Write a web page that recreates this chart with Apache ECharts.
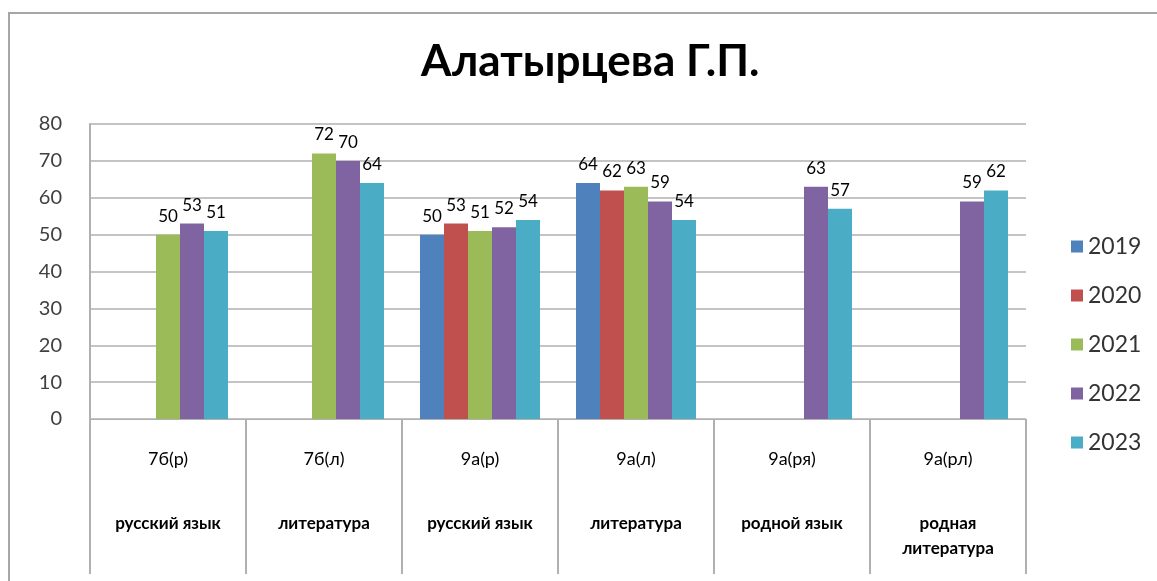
<!DOCTYPE html>
<html>
<head>
<meta charset="utf-8">
<script src="https://cdn.jsdelivr.net/npm/echarts@6/dist/echarts.min.js"></script>
<style>
html,body{margin:0;padding:0;background:#fff;}
#chart{width:1157px;height:581px;}
</style>
</head>
<body>
<div id="chart"></div>
<script>
const titleText = 'Алатырцева Г.П.';
const categories = ['7б(р)', '7б(л)', '9а(р)', '9а(л)', '9а(ря)', '9а(рл)'];
const subjects = [['русский язык'], ['литература'], ['русский язык'], ['литература'], ['родной язык'], ['родная', 'литература']];
const years = ['2019', '2020', '2021', '2022', '2023'];
const v2019 = [null, null, 50, 64, null, null];
const v2020 = [null, null, 53, 62, null, null];
const v2021 = [50, 72, 51, 63, null, null];
const v2022 = [53, 70, 52, 59, 63, 59];
const v2023 = [51, 64, 54, 54, 57, 62];
const yTicks = [0, 10, 20, 30, 40, 50, 60, 70, 80];

const colors = ['#4f81bd', '#c0504d', '#9bbb59', '#8064a2', '#4bacc6'];
const seriesValues = [v2019, v2020, v2021, v2022, v2023];
const FONT = 'Lato, "Open Sans", sans-serif';

const chart = echarts.init(document.getElementById('chart'));
chart.setOption({
  backgroundColor: '#ffffff',
  color: colors,
  animation: false,
  title: {
    text: titleText,
    left: 421,
    top: 40,
    padding: 0,
    textStyle: {fontFamily: FONT, fontSize: 44, fontWeight: 'bold', color: '#000'}
  },
  graphic: [{
    type: 'rect',
    shape: {x: 9, y: 13, width: 1300, height: 700},
    style: {fill: 'none', stroke: '#a6a6a6', lineWidth: 2},
    silent: true
  }],
  legend: {
    orient: 'vertical',
    left: 1066,
    top: 230,
    itemWidth: 12,
    itemHeight: 12,
    itemGap: 26,
    icon: 'rect',
    textStyle: {fontFamily: FONT, fontSize: 23, color: '#333'},
    data: years
  },
  grid: {left: 90, right: 131, top: 124, bottom: 162, containLabel: false},
  xAxis: {
    type: 'category',
    data: categories,
    axisLine: {lineStyle: {color: '#b0b0b0', width: 1}},
    axisTick: {show: true, length: 155, interval: 0, lineStyle: {color: '#b0b0b0', width: 2}},
    axisLabel: {
      interval: 0,
      margin: 28,
      formatter: function (val, idx) {
        const lines = subjects[idx].map(s => '{b|' + s + '}').join('\n');
        return '{a|' + val + '}\n{s| }\n' + lines;
      },
      rich: {
        a: {fontFamily: FONT, fontSize: 18, color: '#000', lineHeight: 24},
        s: {fontSize: 10, lineHeight: 40},
        b: {fontFamily: FONT, fontSize: 17, fontWeight: 'bold', color: '#000', lineHeight: 25}
      }
    }
  },
  yAxis: {
    type: 'value',
    min: 0,
    max: 80,
    interval: 10,
    axisLine: {show: true, lineStyle: {color: '#b0b0b0', width: 2}},
    axisTick: {show: false},
    splitLine: {lineStyle: {color: '#c4c4c4', width: 2}},
    axisLabel: {
      margin: 28,
      fontFamily: FONT,
      fontSize: 20,
      color: '#404040',
      formatter: function (v) { return yTicks.indexOf(v) >= 0 ? String(v) : ''; }
    }
  },
  series: years.map((y, i) => ({
    name: y,
    type: 'bar',
    data: seriesValues[i],
    barWidth: 24,
    barGap: '0%',
    itemStyle: {color: colors[i]},
    label: {
      show: true,
      position: 'top',
      distance: 10,
      fontFamily: FONT,
      fontSize: 17,
      color: '#000'
    }
  }))
});
</script>
</body>
</html>
